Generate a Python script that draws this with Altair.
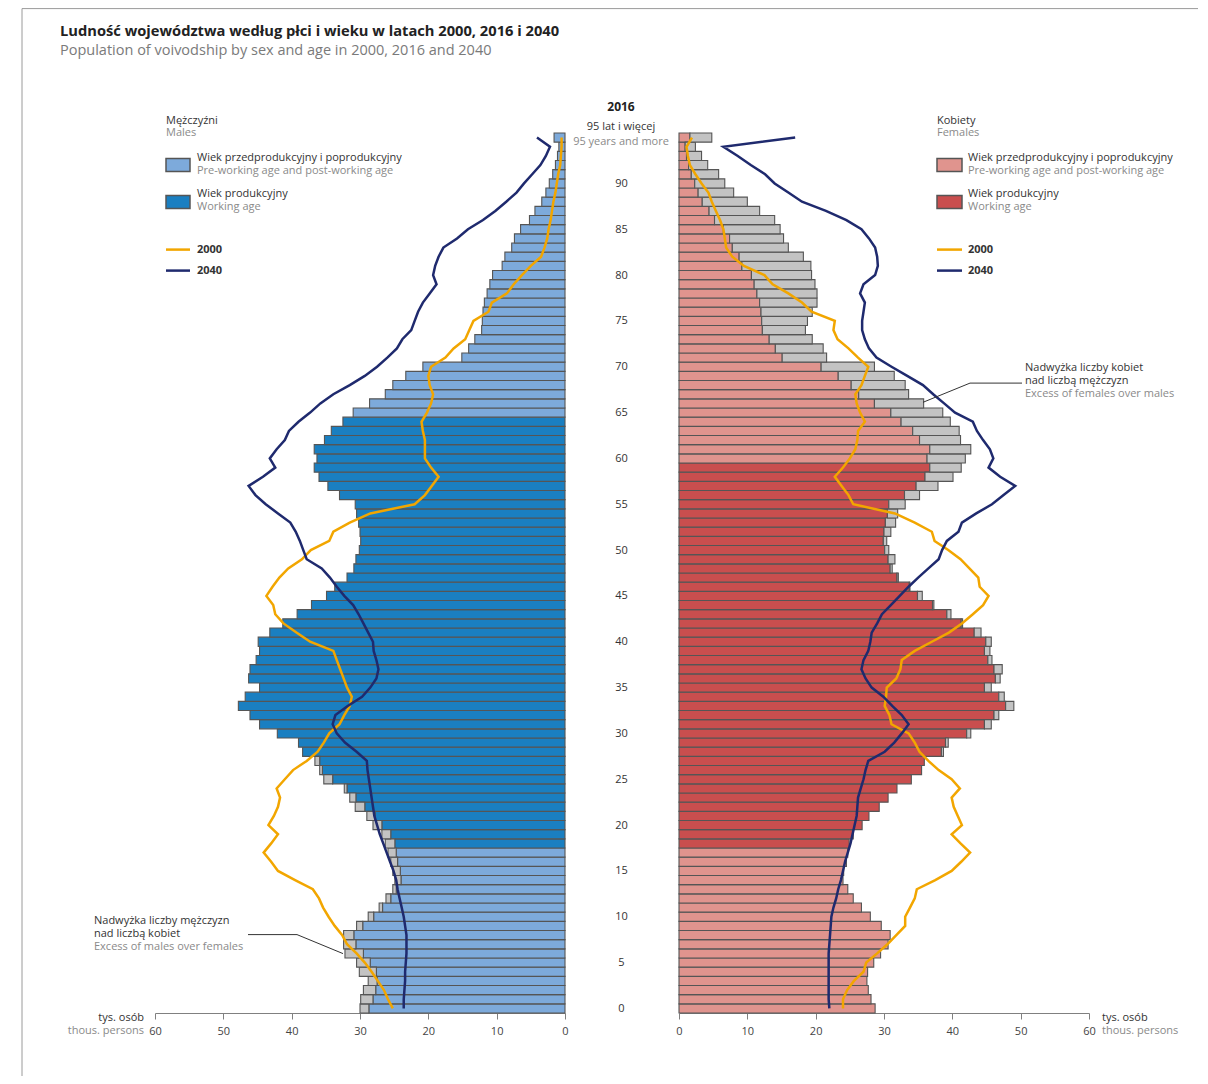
import altair as alt
import pandas as pd

FONT = "Open Sans"

ages = list(range(96))

males_2016 = [
    30.0, 29.9, 29.5, 28.8, 30.1, 30.5, 32.2, 32.4, 32.4, 30.5,
    28.8, 27.2, 26.2, 25.2, 24.9, 25.2, 25.5, 25.9, 26.3, 26.8,
    28.1, 29.0, 30.7, 31.5, 32.3, 35.3, 35.9, 36.6, 38.4, 39.0,
    42.1, 44.7, 46.1, 47.8, 46.8, 44.7, 46.3, 46.1, 45.2, 44.7,
    44.9, 43.2, 41.3, 39.2, 37.1, 34.9, 33.7, 31.9, 30.9, 30.6,
    30.1, 29.9, 30.0, 30.2, 30.5, 30.7, 33.0, 34.7, 36.0, 36.7,
    36.3, 36.7, 35.2, 34.2, 32.5, 31.0, 28.6, 26.3, 25.2, 23.3,
    20.8, 15.1, 14.1, 13.2, 12.2, 12.1, 12.0, 11.8, 11.4, 11.0,
    10.6, 9.2, 8.8, 7.8, 7.4, 6.5, 5.2, 4.4, 3.4, 2.8,
    2.3, 1.8, 1.4, 1.1, 0.9, 1.6]

females_2016 = [
    28.7, 28.1, 27.7, 27.5, 27.6, 28.5, 29.5, 30.6, 30.9, 29.6,
    28.0, 26.7, 25.5, 24.7, 24.0, 24.1, 24.5, 24.7, 24.9, 25.5,
    26.8, 27.8, 29.3, 30.6, 31.9, 34.0, 35.5, 35.9, 38.7, 39.4,
    42.7, 45.7, 46.8, 49.0, 47.6, 45.7, 47.0, 47.3, 45.8, 45.5,
    45.7, 44.2, 41.5, 39.8, 37.3, 35.6, 33.8, 32.1, 31.2, 31.6,
    30.7, 30.4, 31.0, 31.7, 32.0, 33.1, 35.2, 37.9, 40.1, 41.3,
    41.9, 42.7, 41.2, 41.0, 39.7, 38.6, 35.8, 33.6, 33.1, 31.5,
    28.6, 21.6, 21.1, 19.5, 18.5, 18.8, 19.5, 20.2, 20.2, 19.9,
    19.4, 19.3, 18.2, 16.0, 15.3, 14.8, 14.0, 11.8, 10.0, 8.0,
    6.7, 5.8, 4.2, 3.3, 2.4, 4.8]

males_2000 = [
    25.2, 25.9, 26.5, 27.4, 28.3, 29.3, 30.5, 31.9, 32.6, 33.7,
    34.6, 35.4, 36.0, 36.9, 39.5, 42.0, 43.0, 44.1, 43.0, 42.0,
    43.4, 42.6, 42.0, 41.7, 42.2, 41.0, 39.8, 37.8, 36.2, 35.3,
    34.5, 33.0, 32.3, 31.5, 31.2, 31.9, 32.4, 32.9, 33.4, 33.9,
    37.3, 39.3, 41.2, 42.4, 42.7, 43.7, 42.8, 41.8, 40.5, 38.5,
    37.2, 34.5, 33.9, 31.5, 28.5, 22.0, 20.5, 19.5, 18.5, 19.6,
    20.5, 20.5, 20.5, 20.8, 21.0, 20.2, 19.6, 19.3, 19.8, 20.0,
    19.6, 17.5, 16.3, 14.6, 14.0, 13.4, 11.2, 10.7, 8.5, 7.5,
    6.3, 5.0, 3.5, 3.0, 2.6, 2.4, 2.1, 1.9, 1.7, 1.4,
    1.2, 1.0, 0.7, 0.6, 0.5, 0.5]

females_2000 = [
    24.0, 24.0, 24.6, 25.6, 27.0, 27.4, 29.0, 30.5, 31.8, 33.1,
    33.1, 33.8, 34.5, 34.8, 37.5, 39.9, 41.3, 42.6, 41.2, 39.9,
    41.4, 40.8, 40.2, 39.9, 41.1, 39.9, 38.0, 36.5, 35.2, 34.5,
    33.6, 31.1, 30.8, 30.1, 30.3, 30.4, 31.8, 32.4, 32.6, 34.5,
    37.0, 39.5, 41.4, 43.0, 44.5, 45.3, 44.0, 43.8, 42.5, 41.2,
    39.4, 37.4, 37.0, 34.5, 31.6, 25.5, 24.8, 23.8, 22.8, 24.0,
    25.0, 25.8, 26.1, 26.2, 27.2, 26.5, 26.0, 25.8, 26.7, 27.2,
    27.7, 26.2, 24.8, 23.2, 22.6, 22.8, 19.4, 18.0, 16.0, 13.7,
    12.5, 9.5, 7.8, 6.9, 6.7, 6.5, 6.0, 5.4, 4.8, 4.3,
    3.3, 2.4, 1.6, 1.3, 1.1, 1.9]

males_2040 = [
    23.6, 23.6, 23.5, 23.4, 23.4, 23.3, 23.2, 23.2, 23.2, 23.4,
    23.6, 23.9, 24.2, 24.5, 24.7, 25.1, 25.6, 26.1, 26.6, 27.1,
    27.5, 27.9, 28.1, 28.3, 28.5, 28.7, 28.9, 29.0, 30.5, 32.2,
    33.4, 34.0, 33.6, 31.8, 29.7, 28.5, 27.6, 27.3, 27.6, 28.0,
    28.1, 28.8, 29.5, 30.2, 31.0, 32.3, 33.4, 34.4, 35.6, 37.8,
    38.3, 38.8, 39.4, 40.2, 42.0, 43.8, 45.3, 46.3, 44.2, 42.4,
    43.2, 42.2, 41.0, 40.4, 39.0, 37.3, 35.8, 33.9, 31.5, 29.3,
    27.5, 26.0, 24.6, 23.8, 22.5, 22.0, 21.5, 20.8, 19.8, 18.8,
    19.3, 19.0, 18.5, 17.8, 15.8, 14.2, 12.0, 10.2, 8.6, 7.1,
    6.0, 4.8, 3.6, 2.8, 2.2, 4.1]

females_2040 = [
    22.0, 21.9, 21.9, 21.9, 21.9, 21.9, 21.9, 22.0, 22.1, 22.2,
    22.3, 22.6, 23.0, 23.3, 23.7, 24.0, 24.3, 24.7, 25.1, 25.4,
    25.7, 26.0, 26.1, 26.2, 26.6, 27.0, 27.3, 27.7, 30.1, 31.5,
    32.6, 33.6, 32.6, 31.2, 29.9, 28.2, 27.3, 26.7, 27.0, 27.7,
    28.0, 28.2, 29.0, 29.7, 31.0, 32.3, 33.6, 35.0, 36.5, 38.0,
    38.5, 39.2, 40.9, 41.4, 43.5, 45.8, 47.5, 49.2, 47.0, 45.3,
    46.0, 45.5, 44.5, 43.6, 43.0, 40.4, 38.8, 37.2, 35.7, 33.4,
    31.1, 28.9, 27.8, 27.2, 26.8, 26.8, 27.0, 27.2, 26.5, 27.0,
    28.7, 29.1, 29.0, 28.7, 27.8, 26.7, 24.5, 21.5, 18.0, 16.0,
    14.0, 12.6, 10.5, 8.6, 6.5, 17.0]

x_ticks = [0, 10, 20, 30, 40, 50, 60]
age_ticks = list(range(0, 91, 5))

# colours
LB, DB = "#7DAADB", "#1A7FC1"
LP, DR = "#E0948E", "#C94E4E"
GR = "#C3C3C3"
ST = "#555555"
OR = "#F2A600"
NV = "#1F2A6E"
TXT = "#333333"
GTX = "#8A8A8A"

df = pd.DataFrame({
    "age": ages, "m": males_2016, "f": females_2016,
    "m2000": males_2000, "f2000": females_2000,
    "m2040": males_2040, "f2040": females_2040,
})
df["lo"] = df["age"] - 0.5
df["hi"] = df["age"] + 0.5
df["common"] = df[["m", "f"]].min(axis=1)
df["zero"] = 0.0
df["mg"] = ["m_work" if 18 <= a <= 64 else "m_non" for a in ages]
df["fg"] = ["f_work" if 18 <= a <= 59 else "f_non" for a in ages]

W, H = 410, 880
xs_left = alt.Scale(domain=[0, 60], reverse=True, nice=False)
xs_right = alt.Scale(domain=[0, 60], nice=False)
ys = alt.Scale(domain=[-0.5, 95.5], nice=False, zero=False)
fill_scale = alt.Scale(domain=["m_non", "m_work", "f_non", "f_work"], range=[LB, DB, LP, DR])

x_axis = alt.Axis(values=x_ticks, title=None, grid=False, tickSize=6, labelPadding=6,
                  labelFlush=False, labelOverlap=False,
                  domainColor="#808080", tickColor="#808080", labelColor="#444444",
                  labelFontSize=11, labelFont=FONT, format="d")
y_axis_right = alt.Axis(values=age_ticks, orient="left", title=None, grid=False, ticks=False,
                        domain=False, labelAlign="center", labelPadding=58, labelFontSize=11,
                        labelFlush=False, labelOverlap=False,
                        labelColor=TXT, labelFont=FONT)

one = pd.DataFrame({"k": [0]})


def txt(t, x, y, color=TXT, size=11, weight="normal", align="left"):
    return alt.Chart(one).mark_text(align=align, baseline="middle", font=FONT, fontSize=size,
                                    fontWeight=weight, color=color).encode(
        x=alt.value(x), y=alt.value(y), text=alt.value(t))


def seg(x1, y1, x2, y2, color, width):
    return alt.Chart(one).mark_rule(color=color, strokeWidth=width).encode(
        x=alt.value(x1), y=alt.value(y1), x2=alt.value(x2), y2=alt.value(y2))


def box(x1, y1, x2, y2, fill):
    return alt.Chart(one).mark_rect(fill=fill, stroke=ST, strokeWidth=1.5).encode(
        x=alt.value(x1), y=alt.value(y1), x2=alt.value(x2), y2=alt.value(y2))


base = alt.Chart(df)

# ---------------- males (left) ----------------
l_bar = base.mark_rect(stroke=ST, strokeWidth=1.1).encode(
    x=alt.X("common:Q", scale=xs_left, axis=x_axis), x2="zero:Q",
    y=alt.Y("lo:Q", scale=ys, axis=None), y2="hi:Q",
    fill=alt.Fill("mg:N", scale=fill_scale, legend=None))
l_gray = base.transform_filter("datum.m > datum.f").mark_rect(
    fill=GR, stroke=ST, strokeWidth=1.1).encode(
    x=alt.X("common:Q", scale=xs_left, axis=x_axis), x2="m:Q",
    y=alt.Y("lo:Q", scale=ys, axis=None), y2="hi:Q")
l_2000 = base.mark_line(color=OR, strokeWidth=2.5).encode(
    x=alt.X("m2000:Q", scale=xs_left, axis=x_axis),
    y=alt.Y("age:Q", scale=ys, axis=None), order="age:Q")
l_2040 = base.mark_line(color=NV, strokeWidth=2.5).encode(
    x=alt.X("m2040:Q", scale=xs_left, axis=x_axis),
    y=alt.Y("age:Q", scale=ys, axis=None), order="age:Q")

left_notes = [
    seg(-133, -124.4, 1043, -124.4, "#9A9A9A", 1),
    seg(-133, -124.4, -133, 943, "#9A9A9A", 1),
    txt("Ludność województwa według płci i wieku w latach 2000, 2016 i 2040", -95, -101.4,
        color="#222222", size=14.7, weight="bold"),
    txt("Population of voivodship by sex and age in 2000, 2016 and 2040", -95, -82.4,
        color="#7A7A7A", size=14.5),
    txt("Mężczyźni", 11, -12.4),
    txt("Males", 11, 0.4, color=GTX),
    box(11, 25.6, 35, 38.6, LB),
    txt("Wiek przedprodukcyjny i poprodukcyjny", 42, 25.0),
    txt("Pre-working age and post-working age", 42, 38.0, color=GTX),
    box(11, 62.6, 35, 75.6, DB),
    txt("Wiek produkcyjny", 42, 61.0),
    txt("Working age", 42, 74.0, color=GTX),
    seg(11, 116.6, 35, 116.6, OR, 2.5),
    txt("2000", 42, 116.6, weight="bold"),
    seg(11, 137.6, 35, 137.6, NV, 2.5),
    txt("2040", 42, 137.6, weight="bold"),
    txt("Nadwyżka liczby mężczyzn", -61, 788.0),
    txt("nad liczbą kobiet", -61, 801.0),
    txt("Excess of males over females", -61, 814.0, color=GTX),
    seg(93, 801.6, 142, 801.6, TXT, 1),
    seg(142, 801.6, 188, 820.6, TXT, 1),
    txt("tys. osób", -11, 884.6, align="right"),
    txt("thous. persons", -11, 897.6, color=GTX, align="right"),
]

left = alt.layer(l_bar, l_gray, l_2000, l_2040, *left_notes).properties(width=W, height=H)

# ---------------- females (right) ----------------
r_bar = base.mark_rect(stroke=ST, strokeWidth=1.1).encode(
    x=alt.X("common:Q", scale=xs_right, axis=x_axis), x2="zero:Q",
    y=alt.Y("lo:Q", scale=ys, axis=y_axis_right), y2="hi:Q",
    fill=alt.Fill("fg:N", scale=fill_scale, legend=None))
r_gray = base.transform_filter("datum.f > datum.m").mark_rect(
    fill=GR, stroke=ST, strokeWidth=1.1).encode(
    x=alt.X("common:Q", scale=xs_right, axis=x_axis), x2="f:Q",
    y=alt.Y("lo:Q", scale=ys, axis=y_axis_right), y2="hi:Q")
r_2000 = base.mark_line(color=OR, strokeWidth=2.5).encode(
    x=alt.X("f2000:Q", scale=xs_right, axis=x_axis),
    y=alt.Y("age:Q", scale=ys, axis=y_axis_right), order="age:Q")
r_2040 = base.mark_line(color=NV, strokeWidth=2.5).encode(
    x=alt.X("f2040:Q", scale=xs_right, axis=x_axis),
    y=alt.Y("age:Q", scale=ys, axis=y_axis_right), order="age:Q")

right_notes = [
    txt("2016", -58, -26.4, color="#222222", size=12, weight="bold", align="center"),
    txt("95 lat i więcej", -58, -5.6, align="center"),
    txt("95 years and more", -58, 8.6, color=GTX, align="center"),
    txt("Kobiety", 258, -12.4),
    txt("Females", 258, 0.4, color=GTX),
    box(258, 25.6, 283, 38.6, LP),
    txt("Wiek przedprodukcyjny i poprodukcyjny", 289, 25.0),
    txt("Pre-working age and post-working age", 289, 38.0, color=GTX),
    box(258, 62.6, 283, 75.6, DR),
    txt("Wiek produkcyjny", 289, 61.0),
    txt("Working age", 289, 74.0, color=GTX),
    seg(258, 116.6, 283, 116.6, OR, 2.5),
    txt("2000", 289, 116.6, weight="bold"),
    seg(258, 137.6, 283, 137.6, NV, 2.5),
    txt("2040", 289, 137.6, weight="bold"),
    txt("Nadwyżka liczby kobiet", 346, 235.0),
    txt("nad liczbą mężczyzn", 346, 248.0),
    txt("Excess of females over males", 346, 261.0, color=GTX),
    seg(343, 250.1, 291, 250.1, TXT, 1),
    seg(291, 250.1, 244, 269.3, TXT, 1),
    txt("tys. osób", 423, 884.6),
    txt("thous. persons", 423, 897.6, color=GTX),
]

right = alt.layer(r_bar, r_gray, r_2000, r_2040, *right_notes).properties(width=W, height=H)

chart = alt.hconcat(left, right, spacing=114, bounds="flush").configure_view(
    strokeWidth=0
).properties(
    padding={"left": 13, "top": 0, "right": 0, "bottom": 0}
)

chart.save("out.html", embed_options={"renderer": "svg", "actions": False})
